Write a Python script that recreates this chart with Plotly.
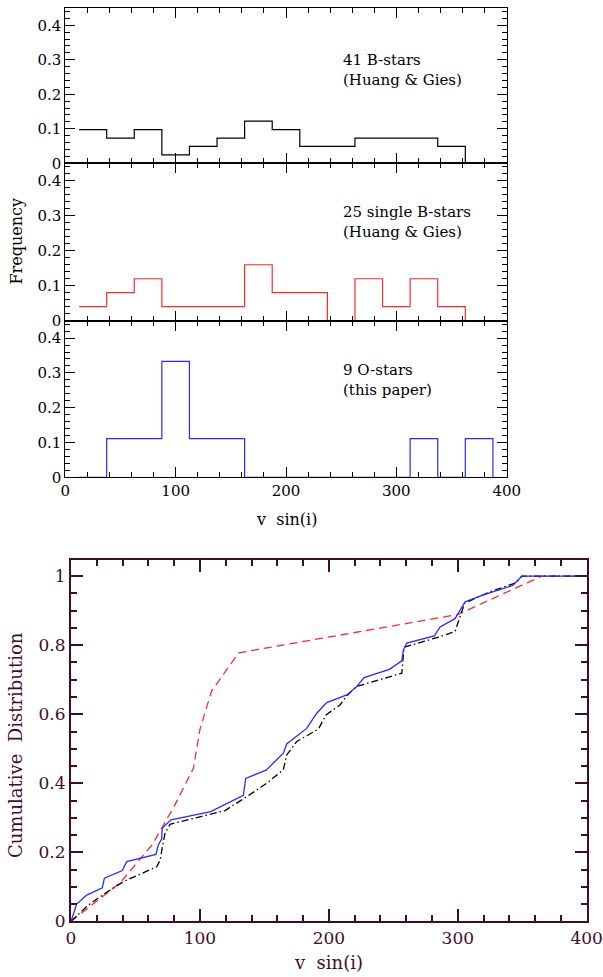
import plotly.graph_objects as go

# ---------------- data ----------------
bin_centers = [25, 50, 75, 100, 125, 150, 175, 200, 225, 250, 275, 300, 325, 350, 375]
bin_width = 25
counts_b41 = [4, 3, 4, 1, 2, 3, 5, 4, 2, 2, 3, 3, 3, 2, 0]
counts_b25 = [1, 2, 3, 1, 1, 1, 4, 2, 2, 0, 3, 1, 3, 1, 0]
counts_o9 = [0, 1, 1, 3, 1, 1, 0, 0, 0, 0, 0, 0, 1, 0, 1]
n_b41, n_b25, n_o9 = 41, 25, 9

label_b41 = "41 B-stars<br>(Huang & Gies)"
label_b25 = "25 single B-stars<br>(Huang & Gies)"
label_o9 = "9 O-stars<br>(this paper)"

# cumulative distributions
blue_v = [0, 4.4, 12.2, 24.3, 25.9, 39.8, 43.2, 65.9, 67.7, 70.3, 70.8, 77.6, 108.4, 120.8,
          133.7, 135.5, 151.3, 164.7, 167.3, 182.8, 190.6, 198.4, 208.7, 213.9, 221.1, 227.3,
          247.0, 256.6, 257.8, 260.4, 281.8, 286.3, 297.9, 305.7, 319.9, 342.7, 349.6, 400]
blue_c = [0, 0.05, 0.076, 0.097, 0.125, 0.147, 0.173, 0.194, 0.221, 0.238, 0.27, 0.294, 0.318,
          0.342, 0.365, 0.414, 0.438, 0.487, 0.514, 0.559, 0.603, 0.634, 0.649, 0.656, 0.678,
          0.706, 0.730, 0.755, 0.786, 0.806, 0.827, 0.853, 0.877, 0.926, 0.946, 0.973, 1.0, 1.0]

black_v = [0, 13.4, 26.4, 40.6, 66.5, 69.2, 70.9, 72.9, 76.8, 109.1, 119.5, 136.3, 151.8, 164.7,
           167.3, 175.1, 191.9, 197.8, 208.7, 213.3, 221.1, 256.6, 258.3, 286.3, 297.9, 305.3,
           325.1, 345.3, 349.6, 400]
black_c = [0, 0.047, 0.081, 0.115, 0.158, 0.178, 0.216, 0.255, 0.281, 0.311, 0.321, 0.361, 0.4,
           0.439, 0.482, 0.521, 0.557, 0.598, 0.627, 0.651, 0.68, 0.719, 0.794, 0.825, 0.84, 0.922,
           0.955, 0.981, 1.0, 1.0]

red_v = [0, 38, 63, 80, 95, 100, 109, 130, 300, 365, 400]
red_c = [0, 0.111, 0.222, 0.333, 0.444, 0.556, 0.667, 0.778, 0.889, 1.0, 1.0]

# ---------------- styles ----------------
W, H = 603, 977
SERIF = "DejaVu Serif"
BLACK = "black"
MAROON = "#3f0d2a"
RED = "#ff2a2a"
BLUE = "#2a2aff"


def step_xy(counts, n):
    edges = [c - bin_width / 2 for c in bin_centers] + [bin_centers[-1] + bin_width / 2]
    freq = [c / n for c in counts] + [0]
    return edges, freq


fig = go.Figure()

hist_sets = [(counts_b41, n_b41, BLACK, "x", "y"),
             (counts_b25, n_b25, RED, "x2", "y2"),
             (counts_o9, n_o9, BLUE, "x3", "y3")]
for counts, n, col, xa, ya in hist_sets:
    ex, fy = step_xy(counts, n)
    fig.add_trace(go.Scatter(x=ex, y=fy, mode="lines", line=dict(color=col, width=1.2, shape="hv"),
                             xaxis=xa, yaxis=ya, showlegend=False, hoverinfo="skip"))

fig.add_trace(go.Scatter(x=red_v, y=red_c, mode="lines",
                         line=dict(color=RED, width=1.3, dash="8px,5px"),
                         xaxis="x4", yaxis="y4", showlegend=False))
fig.add_trace(go.Scatter(x=black_v, y=black_c, mode="lines",
                         line=dict(color=BLACK, width=1.3, dash="7px,3px,1.5px,3px"),
                         xaxis="x4", yaxis="y4", showlegend=False))
fig.add_trace(go.Scatter(x=blue_v, y=blue_c, mode="lines",
                         line=dict(color=BLUE, width=1.3),
                         xaxis="x4", yaxis="y4", showlegend=False))

# ---------------- axes ----------------
xdom_h = [65.3 / W, 506.7 / W]
ydoms = [[1 - 163.3 / H, 1 - 8 / H], [1 - 320.7 / H, 1 - 163.3 / H], [1 - 477.3 / H, 1 - 320.7 / H]]

tf_small = dict(family=SERIF, size=15, color=BLACK)


def hx(anchor, show_labels):
    return dict(domain=xdom_h, range=[0, 400], anchor=anchor, showline=True, linewidth=1,
                linecolor=BLACK, mirror="ticks", ticks="inside", ticklen=10, tickwidth=1,
                tickcolor=BLACK, tick0=0, dtick=100,
                minor=dict(tick0=0, dtick=20, ticks="inside", ticklen=5, tickwidth=1, tickcolor=BLACK),
                showgrid=False, zeroline=False, showticklabels=show_labels, layer="above traces",
                tickfont=tf_small, automargin=False)


def hy(anchor, dom):
    return dict(domain=dom, range=[0, 0.45], anchor=anchor, showline=True, linewidth=1,
                linecolor=BLACK, mirror="ticks", ticks="inside", ticklen=10, tickwidth=1,
                tickcolor=BLACK, tick0=0, dtick=0.1,
                minor=dict(tick0=0, dtick=0.02, ticks="inside", ticklen=5, tickwidth=1, tickcolor=BLACK),
                showgrid=False, zeroline=False, layer="above traces",
                tickfont=tf_small, automargin=False)


tf_big = dict(family=SERIF, size=17, color=MAROON)

layout_axes = dict(
    xaxis=hx("y", False), yaxis=hy("x", ydoms[0]),
    xaxis2=hx("y2", False), yaxis2=hy("x2", ydoms[1]),
    xaxis3=hx("y3", True), yaxis3=hy("x3", ydoms[2]),
    xaxis4=dict(domain=[71 / W, 586.7 / W], range=[0, 400], anchor="y4", showline=True, linewidth=2,
                linecolor=MAROON, mirror="ticks", ticks="inside", ticklen=12, tickwidth=1.6,
                tickcolor=MAROON, tick0=0, dtick=100,
                minor=dict(tick0=0, dtick=20, ticks="inside", ticklen=6, tickwidth=1.6, tickcolor=MAROON),
                showgrid=False, zeroline=False, layer="above traces", tickfont=tf_big, automargin=False),
    yaxis4=dict(domain=[1 - 921.3 / H, 1 - 560 / H], range=[0, 1.047], anchor="x4", showline=True,
                linewidth=2, linecolor=MAROON, mirror="ticks", ticks="inside", ticklen=12, tickwidth=1.6,
                tickcolor=MAROON, tick0=0, dtick=0.2,
                minor=dict(tick0=0, dtick=0.05, ticks="inside", ticklen=6, tickwidth=1.6, tickcolor=MAROON),
                showgrid=False, zeroline=False, layer="above traces", tickfont=tf_big, automargin=False),
)

# ---------------- annotations ----------------
ann = []
af = dict(family=SERIF, size=15, color=BLACK)
for txt, xa, ya, yy in [(label_b41, "x", "y", 0.27),
                        (label_b25, "x2", "y2", 0.283),
                        (label_o9, "x3", "y3", 0.28)]:
    ann.append(dict(text=txt, x=250, y=yy, xref=xa, yref=ya, xanchor="left", yanchor="middle",
                    align="left", showarrow=False, font=af))

af16 = dict(family=SERIF, size=16, color=BLACK)
ann.append(dict(text="Frequency", x=15.5 / W, y=1 - 241 / H, xref="paper", yref="paper",
                textangle=-90, showarrow=False, font=af16, xanchor="center", yanchor="middle"))
ann.append(dict(text="v  sin(i)", x=200, y=1 - 519 / H, xref="x3", yref="paper",
                showarrow=False, font=af16, xanchor="center", yanchor="middle"))
ann.append(dict(text="Cumulative  Distribution", x=15 / W, y=1 - 745 / H, xref="paper", yref="paper",
                textangle=-90, showarrow=False, font=dict(family=SERIF, size=18, color=MAROON),
                xanchor="center", yanchor="middle"))
ann.append(dict(text="v  sin(i)", x=200, y=1 - 962 / H, xref="x4", yref="paper",
                showarrow=False, font=dict(family=SERIF, size=18, color=MAROON),
                xanchor="center", yanchor="middle"))

fig.update_layout(width=W, height=H, margin=dict(l=0, r=0, t=0, b=0),
                  paper_bgcolor="white", plot_bgcolor="white", annotations=ann,
                  font=dict(family=SERIF), **layout_axes)

fig.write_html("out.html")
